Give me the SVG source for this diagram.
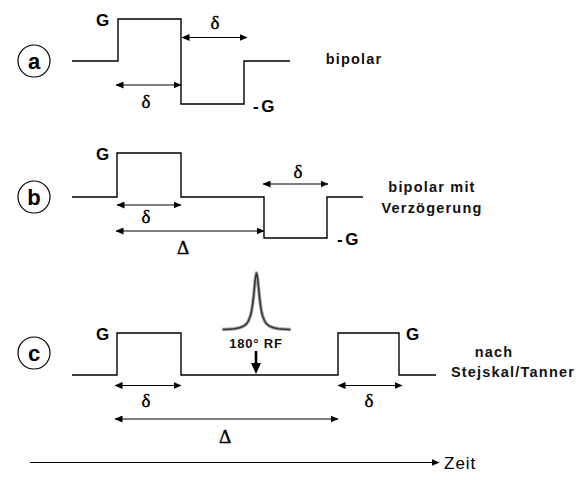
<svg xmlns="http://www.w3.org/2000/svg" width="585" height="480" viewBox="0 0 585 480">
<defs>
<style>
.wave{fill:none;stroke:#000;stroke-width:1.4;stroke-linejoin:miter}
.dim{fill:none;stroke:#000;stroke-width:1.2}
.circ{fill:#fff;stroke:#000;stroke-width:1.2}
.lett{font-family:"Liberation Sans",Arial,sans-serif;font-weight:bold;font-size:22px;text-anchor:middle}
.g{font-family:"Liberation Sans",Arial,sans-serif;font-weight:bold;font-size:17px}
.lbl{font-family:"Liberation Sans",Arial,sans-serif;font-weight:bold;font-size:14.5px;letter-spacing:1.2px;text-anchor:middle;fill:#111}
.greek{font-family:"Liberation Serif","Times New Roman",serif;font-size:19px;text-anchor:middle;stroke:#000;stroke-width:0.4}
</style>
<marker id="ah" markerWidth="8" markerHeight="7" refX="7.5" refY="3.5" orient="auto-start-reverse" markerUnits="userSpaceOnUse">
<path d="M0,0 L8,3.5 L0,7 Z" fill="#000"/>
</marker>
</defs>
<rect width="585" height="480" fill="#fff"/>

<g id="panel-a">
<circle class="circ" cx="34" cy="61" r="16"/>
<text class="lett" x="34" y="69">a</text>
<polyline class="wave" points="72,61 118,61 118,19 181,19 181,104 244,104 244,61 290,61"/>
<text class="g" x="96" y="26">G</text>
<text class="g" x="253" y="112" letter-spacing="2.5">-G</text>
<text class="greek" x="215" y="29">δ</text>
<text class="greek" x="146" y="108">δ</text>
<text class="lbl" x="354" y="64">bipolar</text>
</g>

<g id="panel-b">
<circle class="circ" cx="34" cy="197" r="16"/>
<text class="lett" x="34" y="205">b</text>
<polyline class="wave" points="72,197 117,197 117,153 181,153 181,197 264,197 264,238 327,238 327,197 363,197"/>
<text class="g" x="96" y="160">G</text>
<text class="g" x="337" y="245" letter-spacing="2.5">-G</text>
<text class="greek" x="146" y="223">δ</text>
<text class="greek" x="298" y="178">δ</text>
<text class="greek" x="183" y="254">Δ</text>
<text class="lbl" x="432" y="192">bipolar mit</text>
<text class="lbl" x="432" y="213">Verzögerung</text>
</g>

<g id="panel-c">
<circle class="circ" cx="34" cy="353" r="16"/>
<text class="lett" x="34" y="361">c</text>
<polyline class="wave" points="72,375 117,375 117,333 181,333 181,375 338,375 338,333 399,333 399,375 436,375"/>
<text class="g" x="96" y="340">G</text>
<text class="g" x="406" y="340">G</text>
<text class="greek" x="146" y="407">δ</text>
<text class="greek" x="369" y="407">δ</text>
<text class="greek" x="225" y="443">Δ</text>
<text class="lbl" x="494" y="357">nach</text>
<text class="lbl" x="513" y="377">Stejskal/Tanner</text>
</g>

<g id="rf-pulse">
<polyline fill="none" stroke="#aaa" stroke-width="3.5" stroke-linejoin="round" points="222.5,329.6 228.5,329.2 234.5,328.7 239.5,327.8 243.5,326.1 246.5,323.8 248.5,320.8 250.5,315.5 251.5,311.3 252.5,305.3 253.5,297.1 254.5,287 255.5,277.3 256.5,273 257.5,277.3 258.5,287 259.5,297.1 260.5,305.3 261.5,311.3 262.5,315.5 264.5,320.8 266.5,323.8 269.5,326.1 273.5,327.8 278.5,328.7 284.5,329.2 290.5,329.6"/>
<polyline fill="none" stroke="#333" stroke-width="1.5" stroke-linejoin="round" points="222.5,329.6 228.5,329.2 234.5,328.7 239.5,327.8 243.5,326.1 246.5,323.8 248.5,320.8 250.5,315.5 251.5,311.3 252.5,305.3 253.5,297.1 254.5,287 255.5,277.3 256.5,273 257.5,277.3 258.5,287 259.5,297.1 260.5,305.3 261.5,311.3 262.5,315.5 264.5,320.8 266.5,323.8 269.5,326.1 273.5,327.8 278.5,328.7 284.5,329.2 290.5,329.6"/>
<text x="256" y="348" font-family="'Liberation Sans',Arial,sans-serif" font-weight="bold" font-size="13" letter-spacing="0.8" text-anchor="middle" fill="#111">180° RF</text>
<line x1="256" y1="351" x2="256" y2="364" stroke="#000" stroke-width="2.6"/>
<path d="M251,363 L261,363 L256,374 Z" fill="#000"/>
</g>

<g id="connectors">
<line class="dim" x1="182" y1="37.5" x2="247" y2="37.5" marker-start="url(#ah)" marker-end="url(#ah)"/>
<line class="dim" x1="116" y1="85" x2="181" y2="85" marker-start="url(#ah)" marker-end="url(#ah)"/>
<line class="dim" x1="117" y1="205" x2="181" y2="205" marker-start="url(#ah)" marker-end="url(#ah)"/>
<line class="dim" x1="116" y1="231" x2="264" y2="231" marker-start="url(#ah)" marker-end="url(#ah)"/>
<line class="dim" x1="263" y1="184" x2="328" y2="184" marker-start="url(#ah)" marker-end="url(#ah)"/>
<line class="dim" x1="115" y1="385.5" x2="181" y2="385.5" marker-start="url(#ah)" marker-end="url(#ah)"/>
<line class="dim" x1="338" y1="385.5" x2="402" y2="385.5" marker-start="url(#ah)" marker-end="url(#ah)"/>
<line class="dim" x1="115" y1="419" x2="338" y2="419" marker-start="url(#ah)" marker-end="url(#ah)"/>
<line class="dim" x1="30" y1="462.5" x2="439" y2="462.5" marker-end="url(#ah)"/>
</g>

<g id="axis-label">
<text x="444" y="469" font-family="'Liberation Sans',Arial,sans-serif" font-size="17" letter-spacing="1" fill="#000">Zeit</text>
</g>
</svg>
